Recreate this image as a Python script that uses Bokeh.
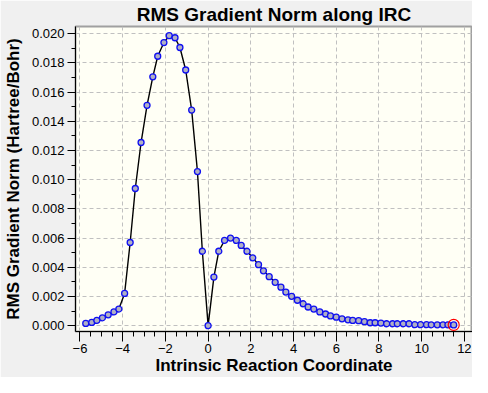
from bokeh.plotting import figure
from bokeh.models import SingleIntervalTicker, NumeralTickFormatter, Range1d
from bokeh.embed import file_html
from bokeh.resources import INLINE

# Intrinsic reaction coordinate and RMS gradient norm (Hartree/Bohr)
irc = [-5.73, -5.45, -5.21, -4.95, -4.68, -4.41, -4.18, -3.91, -3.65, -3.41,
       -3.14, -2.86, -2.59, -2.36, -2.07, -1.82, -1.55, -1.32, -1.05, -0.77,
       -0.50, -0.27, 0.0,
       0.27, 0.50, 0.77, 1.05, 1.32, 1.55, 1.82, 2.09, 2.36, 2.59,
       2.86, 3.14, 3.41, 3.64, 3.91, 4.18, 4.45, 4.68, 4.95, 5.23,
       5.50, 5.73, 6.00, 6.27, 6.55, 6.77, 7.05, 7.32, 7.59, 7.82,
       8.09, 8.36, 8.64, 8.86, 9.14, 9.41, 9.68, 9.95, 10.23, 10.45,
       10.73, 11.00, 11.23, 11.50]
grad = [0.00015, 0.00022, 0.00036, 0.00054, 0.00074, 0.00094, 0.00114, 0.00221, 0.0057, 0.0094,
        0.01255, 0.0151, 0.01705, 0.01846, 0.0194, 0.01987, 0.01973, 0.01906, 0.01752, 0.01477,
        0.01056, 0.0051, 0.0,
        0.00333, 0.0051, 0.00584, 0.0060, 0.00584, 0.0055, 0.0051, 0.00465, 0.00418, 0.00376,
        0.00336, 0.00297, 0.00264, 0.0023, 0.00201, 0.00174, 0.0015, 0.00128, 0.00114, 0.00094,
        0.0008, 0.00067, 0.00058, 0.00047, 0.0004, 0.00036, 0.00034, 0.00027, 0.0002, 0.0002,
        0.00018, 0.00013, 0.00013, 0.00013, 0.00013, 0.00013, 0.00007, 0.00007, 0.00007, 0.00006,
        0.00006, 0.00006, 0.00006, 0.00005]

title_text = "RMS Gradient Norm along IRC"
x_label = "Intrinsic Reaction Coordinate"
y_label = "RMS Gradient Norm (Hartree/Bohr)"

FONT = "Liberation Sans"

p = figure(width=472, height=377, output_backend="svg", toolbar_location=None,
           title=title_text,
           x_range=Range1d(-6.21, 12.38), y_range=Range1d(-0.0004, 0.0205),
           min_border_left=0, min_border_right=0, min_border_top=0, min_border_bottom=0)

p.background_fill_color = "#FFFFF5"
p.border_fill_color = "#F0F0F0"
p.outline_line_color = "#A0A0A0"
p.outline_line_width = 2

p.title.text_font = FONT
p.title.text_font_size = "19px"
p.title.text_font_style = "bold"
p.title.align = "center"
p.title.text_color = "black"
p.title.standoff = 3
p.title.offset = 0

# axes
p.xaxis.ticker = SingleIntervalTicker(interval=2, num_minor_ticks=4)
p.yaxis.ticker = SingleIntervalTicker(interval=0.002, num_minor_ticks=2)
p.yaxis.formatter = NumeralTickFormatter(format="0.000")
for ax in (p.xaxis, p.yaxis):
    ax.axis_label_text_font = FONT
    ax.axis_label_text_font_size = "17px"
    ax.axis_label_text_font_style = "bold"
    ax.axis_label_text_color = "black"
    ax.major_label_text_font = FONT
    ax.major_label_text_font_size = "13px"
    ax.major_label_text_color = "black"
    ax.axis_line_color = "black"
    ax.major_tick_line_color = "black"
    ax.minor_tick_line_color = "black"
    ax.major_tick_in = 0
    ax.minor_tick_in = 0
p.xaxis.axis_label = x_label
p.yaxis.axis_label = y_label
p.xaxis.major_tick_out = 10
p.xaxis.minor_tick_out = 5
p.yaxis.major_tick_out = 8
p.yaxis.minor_tick_out = 4
p.xaxis.major_label_standoff = 2
p.yaxis.major_label_standoff = 3
p.xaxis.axis_label_standoff = 0
p.yaxis.axis_label_standoff = 6

p.grid.grid_line_color = "#C0C0C0"
p.grid.grid_line_dash = "4 3"
p.grid.grid_line_width = 1

p.line(irc, grad, line_color="black", line_width=1.4)
p.scatter(irc, grad, marker="circle", size=6, fill_color="#B0B0C4",
          line_color="#1010F0", line_width=1.3)
p.scatter(irc[-1:], grad[-1:], marker="circle", size=11, fill_color=None,
          line_color="#FF0000", line_width=1.2)

open("out.html", "w").write(file_html(p, INLINE))
